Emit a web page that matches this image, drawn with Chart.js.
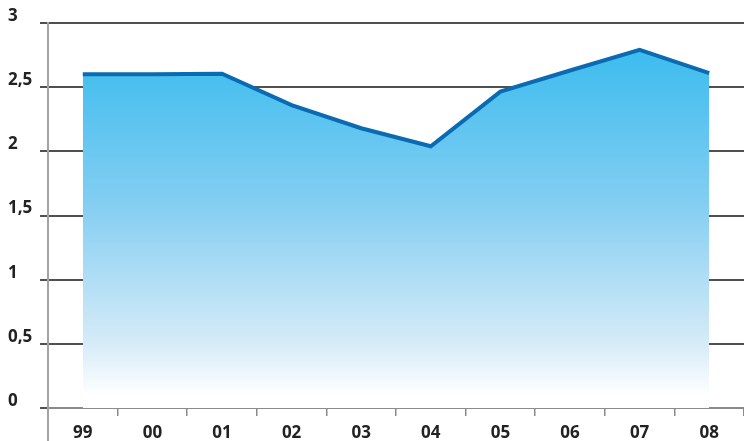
<!DOCTYPE html>
<html>
<head>
<meta charset="utf-8">
<script src="https://cdn.jsdelivr.net/npm/chart.js@4/dist/chart.umd.min.js"></script>
<style>
  html, body { margin: 0; padding: 0; background: #ffffff; }
  #wrap { width: 744px; height: 441px; }
</style>
</head>
<body>
<div id="wrap"><canvas id="c" width="744" height="441"></canvas></div>
<script>
const categories = ['99', '00', '01', '02', '03', '04', '05', '06', '07', '08'];
const values = [2.60, 2.60, 2.605, 2.36, 2.18, 2.04, 2.465, 2.63, 2.79, 2.61];
const yTickValues = [0, 0.5, 1, 1.5, 2, 2.5, 3];
const yTickLabels = ['0', '0,5', '1', '1,5', '2', '2,5', '3'];

const axisExtend = {
  id: 'axisExtend',
  afterDraw(chart) {
    const ctx = chart.ctx;
    const a = chart.chartArea;
    ctx.save();
    ctx.strokeStyle = '#a3a3a3';
    ctx.lineWidth = 2;
    ctx.beginPath();
    ctx.moveTo(a.left, a.bottom);
    ctx.lineTo(a.left, chart.height);
    ctx.stroke();
    ctx.restore();
  }
};

new Chart(document.getElementById('c'), {
  type: 'line',
  data: {
    labels: categories,
    datasets: [{
      data: values,
      borderColor: '#0a6bb3',
      borderWidth: 4,
      pointRadius: 0,
      tension: 0,
      fill: 'origin',
      backgroundColor(context) {
        const chart = context.chart;
        const a = chart.chartArea;
        if (!a) return '#5cc3ef';
        const y = chart.scales.y;
        const g = chart.ctx.createLinearGradient(0, y.getPixelForValue(2.8), 0, y.getPixelForValue(0.1));
        g.addColorStop(0, '#3bbcee');
        g.addColorStop(0.45, '#84cef2');
        g.addColorStop(0.85, '#d6ebf8');
        g.addColorStop(1, '#ffffff');
        return g;
      }
    }]
  },
  options: {
    responsive: false,
    animation: false,
    layout: { padding: { left: 8, top: 23, right: 0, bottom: 0 } },
    plugins: { legend: { display: false }, tooltip: { enabled: false } },
    scales: {
      x: {
        offset: true,
        grid: { display: true, drawOnChartArea: false, drawTicks: true, tickLength: 8, offset: true, color: '#8a8a8a', lineWidth: 1.5 },
        border: { display: true, color: '#8a8a8a', width: 2 },
        ticks: { color: '#222222', padding: 7, font: { family: 'Open Sans', size: 17, weight: 'bold' } },
        afterFit(scale) { scale.height = 33; scale.paddingLeft = 0; scale.paddingRight = 0; scale.paddingTop = 0; scale.paddingBottom = 0; }
      },
      y: {
        min: 0,
        max: 3,
        afterBuildTicks(scale) { scale.ticks = yTickValues.map(v => ({ value: v })); },
        afterFit(scale) { scale.width = 40; scale.paddingTop = 0; scale.paddingBottom = 0; },
        grid: { color: '#505050', lineWidth: 2, tickLength: 8, drawTicks: true },
        border: { display: true, color: '#a3a3a3', width: 2 },
        ticks: {
          color: '#222222',
          crossAlign: 'far',
          labelOffset: -7,
          padding: 4,
          font: { family: 'Open Sans', size: 17, weight: 'bold' },
          callback(value) {
            const i = yTickValues.indexOf(value);
            return i >= 0 ? yTickLabels[i] : '';
          }
        }
      }
    }
  },
  plugins: [axisExtend]
});
</script>
</body>
</html>
